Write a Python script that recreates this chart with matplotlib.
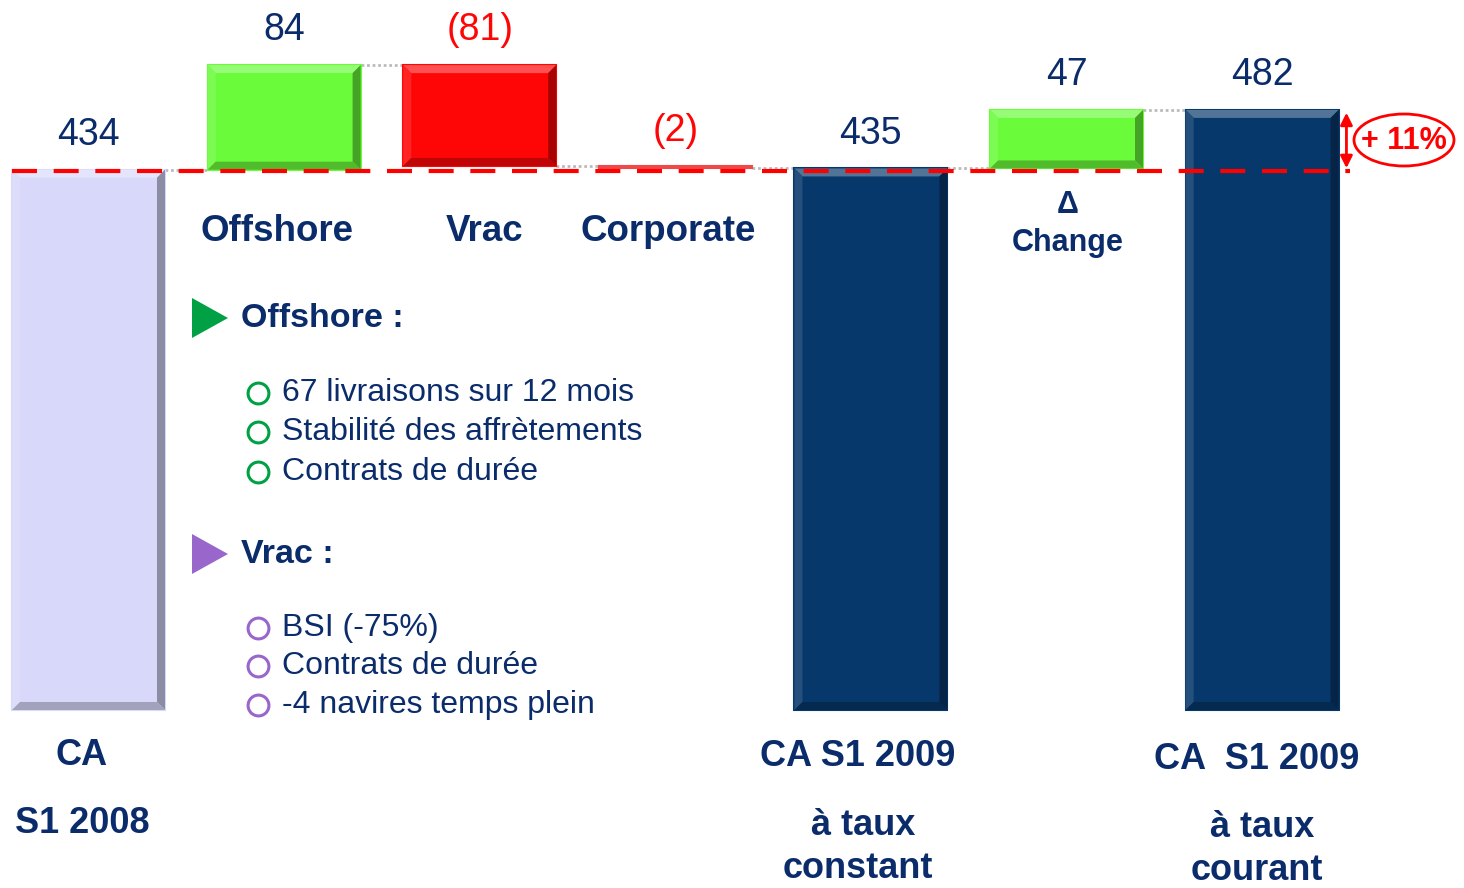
import matplotlib.pyplot as plt
from matplotlib.patches import Polygon, Ellipse
from matplotlib.colors import to_rgb
import numpy as np

# Chiffre d'affaires S1 2008 -> S1 2009 (M EUR)
steps = ['CA S1 2008', 'Offshore', 'Vrac', 'Corporate', 'CA S1 2009 cst', 'Change', 'CA S1 2009']
values = [434, 84, -81, -2, 435, 47, 482]
is_total = [True, False, False, False, True, False, True]
value_labels = ['434', '84', '(81)', '(2)', '435', '47', '482']

offshore_points = ['67 livraisons sur 12 mois', 'Stabilité des affrètements', 'Contrats de durée']
vrac_points = ['BSI (-75%)', 'Contrats de durée', '-4 navires temps plein']

NAVY_TXT = '#0B2C6B'
NAVY = '#07386B'
LAV = '#D8D8FB'
GREEN = '#6AFB3A'
RED = '#FF0606'
CORP = '#F04848'

plt.rcParams['font.family'] = ['Liberation Sans', 'DejaVu Sans']

fig = plt.figure(figsize=(14.64, 8.88), dpi=100)
ax = fig.add_axes([0, 0, 1, 1])
ax.set_xlim(-0.4525, 7.032)
ax.set_ylim(-143, 570.3)
ax.axis('off')

# overlay in pixel coordinates for the free text
ov = fig.add_axes([0, 0, 1, 1])
ov.set_xlim(0, 1464)
ov.set_ylim(888, 0)
ov.axis('off')
ov.patch.set_alpha(0)

# waterfall bottoms / tops
bottoms, tops = [], []
running = 0
for v, tot in zip(values, is_total):
    if tot:
        b, t = 0, v
        running = v
    else:
        b, t = (running, running + v) if v > 0 else (running + v, running)
        running += v
    bottoms.append(b)
    tops.append(t)

colors = []
for i, (v, tot) in enumerate(zip(values, is_total)):
    if i == 0:
        colors.append(LAV)
    elif tot:
        colors.append(NAVY)
    elif v > 0:
        colors.append(GREEN)
    else:
        colors.append(RED if abs(v) > 10 else CORP)

x = np.arange(len(steps))
w = 0.782
ax.bar(x, np.array(tops) - np.array(bottoms), bottom=bottoms, width=w,
       color=colors, edgecolor=colors, lw=1.5, zorder=2)


def mix(c, other, f):
    c, o = np.array(to_rgb(c)), np.array(to_rgb(other))
    return tuple(c * (1 - f) + o * f)


# bevel look
dx, dy = 8 / 195.6, 8 / 1.245
for xi, b, t, c in zip(x, bottoms, tops, colors):
    if t - b < 3 * dy:
        continue
    x0, x1 = xi - w / 2, xi + w / 2
    faces = [
        ([(x0, t), (x1, t), (x1 - dx, t - dy), (x0 + dx, t - dy)], mix(c, 'white', 0.3)),
        ([(x0, b), (x0, t), (x0 + dx, t - dy), (x0 + dx, b + dy)], mix(c, 'white', 0.12)),
        ([(x1, b), (x1, t), (x1 - dx, t - dy), (x1 - dx, b + dy)], mix(c, 'black', 0.35)),
        ([(x0, b), (x1, b), (x1 - dx, b + dy), (x0 + dx, b + dy)], mix(c, 'black', 0.25)),
    ]
    for pts, fc in faces:
        ax.add_patch(Polygon(pts, closed=True, facecolor=fc, edgecolor='none', zorder=3))

# dotted connectors
for i in range(len(values) - 1):
    level = tops[i] if (is_total[i] or values[i] > 0) else bottoms[i]
    ax.plot([x[i] + w / 2, x[i + 1] - w / 2], [level, level], color='#BBBBBB',
            ls=(0, (1, 1)), lw=2, zorder=1)

# reference dashed line at the 2008 level
ax.plot([x[0] - w / 2, x[-1] + w / 2 + 0.06], [values[0] - 1, values[0] - 1], color='red',
        lw=3, ls=(0, (6, 4)), zorder=5)

# value labels
for xi, t, lab, v, tot in zip(x, tops, value_labels, values, is_total):
    col = RED if (v < 0 and not tot) else NAVY_TXT
    ax.annotate(lab, (xi, t), xytext=(0, 25), textcoords='offset points',
                ha='center', va='center', fontsize=27, color=col, zorder=6)

# growth arrow and ellipse
ax.annotate('', xy=(x[-1] + w / 2 + 0.04, tops[-1]), xytext=(x[-1] + w / 2 + 0.04, values[0] - 1),
            arrowprops=dict(arrowstyle='<|-|>', color='red', lw=2, mutation_scale=18),
            zorder=6)
ov.add_patch(Ellipse((1404, 140), 100, 52, facecolor='none', edgecolor='red', lw=2))
ov.text(1404, 141, '+ 11%', ha='center', va='center', fontsize=22, fontweight='bold', color='red')

# category labels
bold = dict(ha='center', va='center', fontweight='bold', color=NAVY_TXT)
ov.text(277, 231, 'Offshore', fontsize=26.5, **bold)
ov.text(485, 231, 'Vrac', fontsize=26.5, **bold)
ov.text(668, 231, 'Corporate', fontsize=26.5, **bold)
ov.text(1068, 205, 'Δ', fontsize=22, **bold)
ov.text(1068, 243, 'Change', fontsize=22, **bold)

big = dict(ha='center', va='center', fontweight='bold', color=NAVY_TXT, fontsize=26)
ov.text(82, 755, 'CA', **big)
ov.text(82, 823, 'S1 2008', **big)
ov.text(858, 756, 'CA S1 2009', **big)
ov.text(863, 825, 'à taux', **big)
ov.text(858, 868, 'constant', **big)
ov.text(1257, 759, 'CA  S1 2009', **big)
ov.text(1262, 827, 'à taux', **big)
ov.text(1257, 870, 'courant', **big)

# commentary bullets
for (title, points, col, ty, py) in [
        ('Offshore :', offshore_points, '#00A145', 318, [393, 432, 472]),
        ('Vrac :', vrac_points, '#9966CC', 554, [628, 666, 705])]:
    ov.add_patch(Polygon([(192, ty - 20), (192, ty + 20), (228, ty)], closed=True,
                         facecolor=col, edgecolor='none'))
    ov.text(241, ty, title, ha='left', va='center', fontsize=24.5, fontweight='bold', color=NAVY_TXT)
    for p, yy in zip(points, py):
        ov.plot(258, yy, marker='o', ms=15, mfc='none', mec=col, mew=2.2)
        ov.text(282, yy, p, ha='left', va='center', fontsize=23, color=NAVY_TXT)

fig.savefig('out.png', dpi=100)
